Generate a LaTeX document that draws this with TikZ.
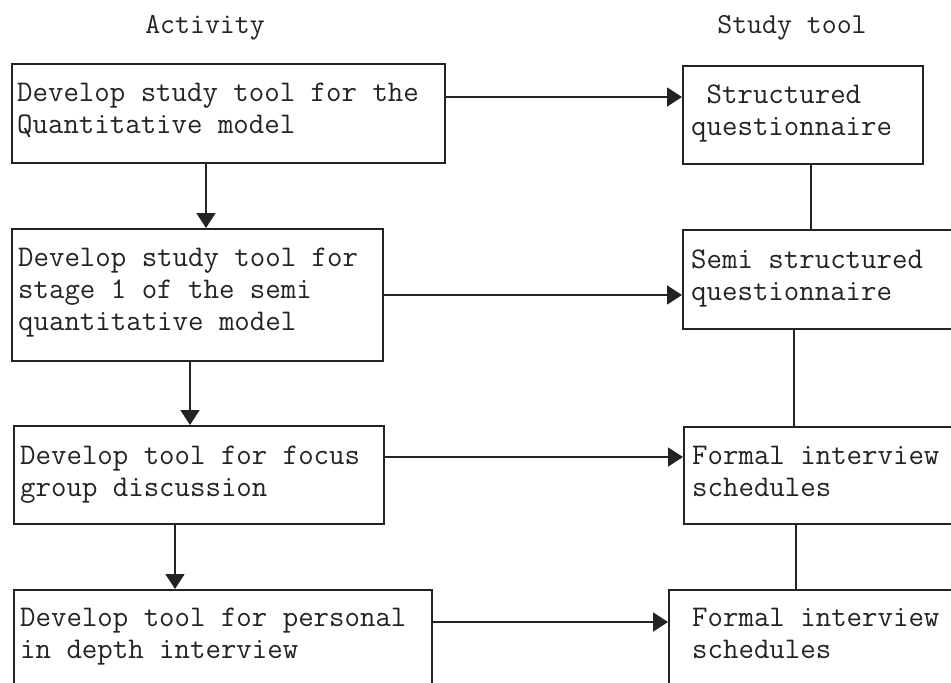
\documentclass[tikz,border=0pt]{standalone}
\usetikzlibrary{arrows.meta}
\definecolor{ink}{RGB}{35,35,35}
\tikzset{
  box/.style={draw=ink, line width=1.8pt, rectangle, inner sep=0pt, anchor=north west},
  txt/.style={inner sep=0pt, anchor=base west, align=left, text=ink,
    font=\fontsize{30}{32}\selectfont\ttfamily},
  head/.style={inner sep=0pt, anchor=base, text=ink, font=\fontsize{29}{32}\selectfont\ttfamily},
  arr/.style={draw=ink, line width=1.8pt, -{Triangle[length=15pt,width=19pt]}},
  lnk/.style={draw=ink, line width=1.8pt}
}
\begin{document}
\begin{tikzpicture}[x=1pt,y=-1pt]
\useasboundingbox (0,0) rectangle (951,683);
\clip (0,0) rectangle (951,683);
% headers
\node[head] (hA) at (205,33) {Activity};
\node[head] (hS) at (792,33) {Study tool};
% boxes, left column
\node[box, minimum width=433pt, minimum height=99pt] (a1) at (11,63) {};
\node[box, minimum width=371pt, minimum height=132pt] (a2) at (11,228) {};
\node[box, minimum width=370pt, minimum height=98pt] (a3) at (13,425) {};
\node[box, minimum width=418pt, minimum height=120pt] (a4) at (13,589) {};
% boxes, right column
\node[box, minimum width=240pt, minimum height=98pt] (s1) at (682,65) {};
\node[box, minimum width=300pt, minimum height=99pt] (s2) at (682,229) {};
\node[box, minimum width=300pt, minimum height=97pt] (s3) at (683,426) {};
\node[box, minimum width=320pt, minimum height=120pt] (s4) at (668,589) {};
% texts (anchored at the baseline of the last line)
\node[txt] (ta1) at (17,133) {Develop study tool for the\\Quantitative model};
\node[txt] (ta2) at (18,330) {Develop study tool for\\stage 1 of the semi\\quantitative model};
\node[txt] (ta3) at (20,496) {Develop tool for focus\\group discussion};
\node[txt] (ta4) at (20,658) {Develop tool for personal\\in depth interview};
\node[txt] (ts1) at (691,135) {\phantom{x}Structured\\questionnaire};
\node[txt] (ts2) at (691,300) {Semi structured\\questionnaire};
\node[txt] (ts3) at (692,496) {Formal interview\\schedules};
\node[txt] (ts4) at (692,658) {Formal interview\\schedules};
% guide coordinates
\coordinate (y1) at (0,97);
\coordinate (y2) at (0,295);
\coordinate (y3) at (0,457);
\coordinate (y4) at (0,622);
\coordinate (x1) at (206,0);
\coordinate (x2) at (190,0);
\coordinate (x3) at (175,0);
\coordinate (x4) at (811,0);
\coordinate (x5) at (794,0);
\coordinate (x6) at (796,0);
% horizontal arrows
\draw[arr] (a1.east |- y1) -- (s1.west |- y1);
\draw[arr] (a2.east |- y2) -- (s2.west |- y2);
\draw[arr] (a3.east |- y3) -- (s3.west |- y3);
\draw[arr] (a4.east |- y4) -- (s4.west |- y4);
% vertical arrows
\draw[arr] (a1.south -| x1) -- (a2.north -| x1);
\draw[arr] (a2.south -| x2) -- (a3.north -| x2);
\draw[arr] (a3.south -| x3) -- (a4.north -| x3);
% right column links
\draw[lnk] (s1.south -| x4) -- (s2.north -| x4);
\draw[lnk] (s2.south -| x5) -- (s3.north -| x5);
\draw[lnk] (s3.south -| x6) -- (s4.north -| x6);
\end{tikzpicture}
\end{document}
